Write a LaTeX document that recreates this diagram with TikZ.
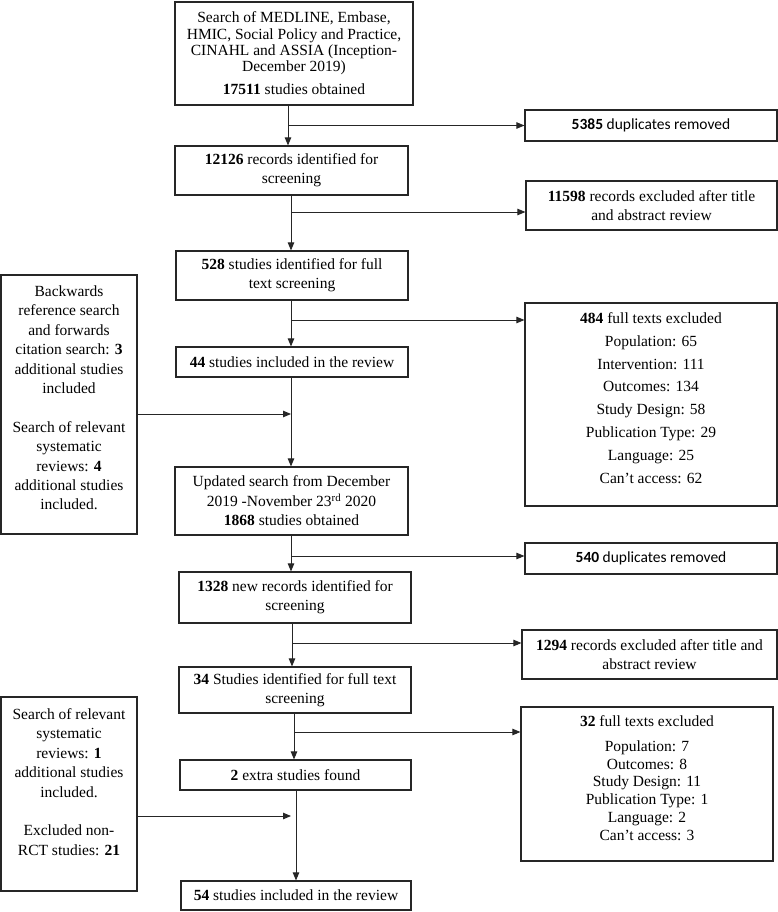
\documentclass[tikz,border=0pt]{standalone}
\usepackage{fontspec}
\setmainfont{Liberation Serif}
\newfontfamily\sansf{Carlito}
\usetikzlibrary{arrows.meta}
\begin{document}
\begin{tikzpicture}[x=1pt,y=-1pt,
  box/.style={draw=black!85, line width=1.2pt, inner sep=0pt, align=center, font=\fontsize{15.5}{19.4}\selectfont},
  sbox/.style={box, font=\sansf\fontsize{15.5}{19.4}\selectfont},
  txt/.style={inner sep=0pt, align=center, font=\fontsize{15.5}{19.4}\selectfont},
  conn/.style={draw=black!85, line width=0.9pt},
  arr/.style={conn, -{Triangle[length=8pt,width=6.5pt]}}]
\useasboundingbox[fill=white] (0,0) rectangle (778,912);

% central column
\node[box, minimum width=238, minimum height=103, font=\fontsize{15.5}{16.3}\selectfont] (b1) at (294,53.5)
  {Search of MEDLINE, Embase,\\HMIC, Social Policy and Practice,\\CINAHL and ASSIA (Inception-\\December 2019)\\[6.7pt]\textbf{17511} studies obtained};
\node[box, minimum width=233, minimum height=49] (b2) at (291.5,170.5) {\textbf{12126} records identified for\\screening};
\node[box, minimum width=232, minimum height=49] (b3) at (292,275.5) {\textbf{528} studies identified for full\\text screening};
\node[box, minimum width=232, minimum height=30] (b4) at (292,362) {\textbf{44} studies included in the review};
\node[box, minimum width=233, minimum height=68] (b5) at (291.5,501) {Updated search from December\\2019 -November 23\textsuperscript{rd} 2020\\\textbf{1868} studies obtained};
\node[box, minimum width=232, minimum height=51] (b6) at (295,597.5) {\textbf{1328} new records identified for\\screening};
\node[box, minimum width=232, minimum height=46] (b7) at (295,690) {\textbf{34} Studies identified for full text\\screening};
\node[box, minimum width=231, minimum height=30] (b8) at (295.5,775) {\textbf{2} extra studies found};
\node[box, minimum width=230, minimum height=29] (b9) at (296,895.5) {\textbf{54} studies included in the review};

% right column
\node[sbox, minimum width=252, minimum height=31] (r1) at (651,125.5) {\textbf{5385} duplicates removed};
\node[box, minimum width=251, minimum height=49] (r2) at (651.5,205.5) {\textbf{11598} records excluded after title\\and abstract review};
\node[box, minimum width=252, minimum height=203] (r3) at (651,404.5) {};
\node[txt, font=\fontsize{15.5}{22.8}\selectfont] (r3t) at (651,398)
  {\textbf{484} full texts excluded\\Population: 65\\Intervention: 111\\Outcomes: 134\\Study Design: 58\\Publication Type: 29\\Language: 25\\Can’t access: 62};
\node[sbox, minimum width=252, minimum height=31] (r4) at (651,558.5) {\textbf{540} duplicates removed};
\node[box, minimum width=255, minimum height=49] (r5) at (649.5,654.5) {\textbf{1294} records excluded after title and\\abstract review};
\node[box, minimum width=252, minimum height=154] (r6) at (647,784) {};
\node[txt, font=\fontsize{15.5}{17.8}\selectfont] (r6t) at (647,778)
  {\textbf{32} full texts excluded\\[7pt]Population: 7\\Outcomes: 8\\Study Design: 11\\Publication Type: 1\\Language: 2\\Can’t access: 3};

% left column
\node[box, minimum width=136, minimum height=259] (l1) at (69,404.5) {};
\node[txt] (l1t) at (69,398)
  {Backwards\\reference search\\and forwards\\citation search: \textbf{3}\\additional studies\\included\\[19.4pt]Search of relevant\\systematic\\reviews: \textbf{4}\\additional studies\\included.};
\node[box, minimum width=136, minimum height=194] (l2) at (69,794) {};
\node[txt] (l2t) at (69,782)
  {Search of relevant\\systematic\\reviews: \textbf{1}\\additional studies\\included.\\[19.4pt]Excluded non-\\RCT studies: \textbf{21}};

% junctions
\coordinate (j1) at (288,125.5);
\coordinate (j2) at (291,212);
\coordinate (j3) at (291,320);
\coordinate (j4) at (291,414);
\coordinate (j5) at (291,556);
\coordinate (j6) at (292,643);
\coordinate (j7) at (294,732);
\coordinate (j8) at (296,816);

\draw[arr] (b1.south -| j1) -- (b2.north -| j1);
\draw[arr] (j1) -- (r1.west |- j1);
\draw[arr] (b2.south -| j2) -- (b3.north -| j2);
\draw[arr] (j2) -- (r2.west |- j2);
\draw[arr] (b3.south -| j3) -- (b4.north -| j3);
\draw[arr] (j3) -- (r3.west |- j3);
\draw[arr] (b4.south -| j4) -- (b5.north -| j4);
\draw[arr] (l1.east |- j4) -- (j4);
\draw[arr] (b5.south -| j5) -- (b6.north -| j5);
\draw[arr] (j5) -- (r4.west |- j5);
\draw[arr] (b6.south -| j6) -- (b7.north -| j6);
\draw[arr] (j6) -- (r5.west |- j6);
\draw[arr] (b7.south -| j7) -- (b8.north -| j7);
\draw[arr] (j7) -- (r6.west |- j7);
\draw[arr] (b8.south -| j8) -- (b9.north -| j8);
\draw[arr, shorten >=5pt] (l2.east |- j8) -- (j8);
\end{tikzpicture}
\end{document}
